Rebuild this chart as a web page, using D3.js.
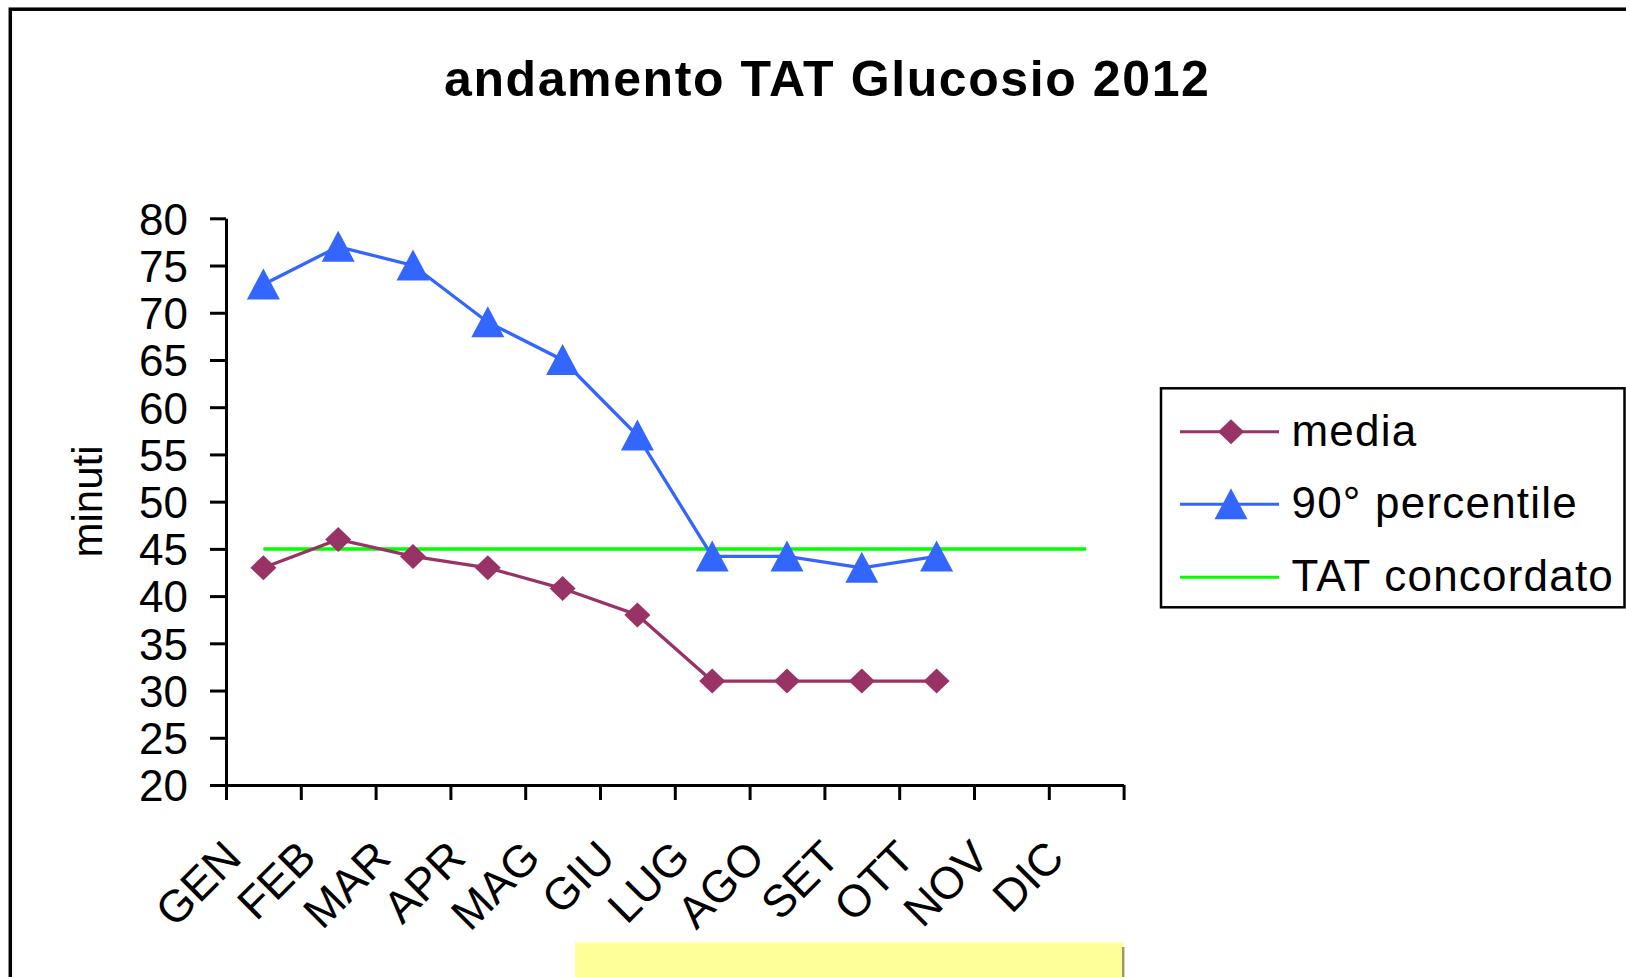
<!DOCTYPE html>
<html>
<head>
<meta charset="utf-8">
<script src="https://cdn.jsdelivr.net/npm/d3@7"></script>
<style>
  html, body { margin: 0; padding: 0; background: #fff; }
  svg { display: block; }
  text { font-family: "Liberation Sans", Arial, sans-serif; fill: #000; }
</style>
</head>
<body>
<svg id="chart" width="1626" height="977"></svg>
<script>
// ---- data ----
const months = ["GEN", "FEB", "MAR", "APR", "MAG", "GIU", "LUG", "AGO", "SET", "OTT", "NOV", "DIC"];
const media = [43, 46, 44.2, 43, 40.8, 38, 31, 31, 31, 31];
const perc90 = [73, 77, 75, 69, 65, 57, 44.2, 44.2, 43, 44.2];
const tatConcordato = [45, 45, 45, 45, 45, 45, 45, 45, 45, 45, 45, 45];
const yTicks = [20, 25, 30, 35, 40, 45, 50, 55, 60, 65, 70, 75, 80];
const seriesNames = ["media", "90° percentile", "TAT concordato"];
const titleText = "andamento TAT Glucosio 2012";
const yLabel = "minuti";

// ---- layout ----
const W = 1626, H = 977;
const plot = { left: 226, right: 1123.6, top: 218.3, bottom: 785 };
const C_MEDIA = "#993366", C_P90 = "#3366FF", C_TAT = "#00FF00";

const svg = d3.select("#chart");

// outer chart border
svg.append("rect").attr("x", 10.3).attr("y", 9.2).attr("width", W + 20).attr("height", H + 20)
  .attr("fill", "#fff").attr("stroke", "#000").attr("stroke-width", 3.5);

// yellow box at bottom
svg.append("rect").attr("x", 575).attr("y", 942).attr("width", 548.6).attr("height", 60)
  .attr("fill", "#FFFF99");
svg.append("line").attr("x1", 575).attr("x2", 1122).attr("y1", 942.5).attr("y2", 942.5)
  .attr("stroke", "#FFFFC4").attr("stroke-width", 1.5);
svg.append("line").attr("x1", 1123.2).attr("x2", 1123.2).attr("y1", 947).attr("y2", H)
  .attr("stroke", "#9C9C66").attr("stroke-width", 2.5);

// title
svg.append("text").attr("x", 444).attr("y", 96)
  .attr("font-size", 50).attr("font-weight", "bold").attr("letter-spacing", "1.6px")
  .text(titleText);

// scales
const xBand = d3.scaleBand().domain(months).range([plot.left, plot.right]).padding(0);
const xLin = d3.scaleLinear().domain([0, months.length]).range([plot.left, plot.right]);
const y = d3.scaleLinear().domain([20, 80]).range([plot.bottom, plot.top]);
const cx = m => xBand(m) + xBand.bandwidth() / 2;

// y axis
const yAxis = svg.append("g").attr("transform", `translate(${plot.left},0)`)
  .call(d3.axisLeft(y).tickValues(yTicks).tickSize(16).tickSizeOuter(0).tickPadding(22).tickFormat(d3.format("d")));
yAxis.select(".domain").attr("stroke", "#000").attr("stroke-width", 3);
yAxis.selectAll(".tick line").attr("stroke", "#000").attr("stroke-width", 3);
yAxis.selectAll(".tick text").attr("font-size", 44).attr("font-family", "Liberation Sans, Arial, sans-serif")
  .attr("fill", "#000").attr("dy", "0.36em");

// x axis (ticks between categories)
const xAxis = svg.append("g").attr("transform", `translate(0,${plot.bottom})`)
  .call(d3.axisBottom(xLin).tickValues(d3.range(months.length + 1)).tickSize(15).tickSizeOuter(0).tickFormat(""));
xAxis.select(".domain").attr("stroke", "#000").attr("stroke-width", 3);
xAxis.selectAll(".tick line").attr("stroke", "#000").attr("stroke-width", 3);

// x labels rotated
svg.append("g").selectAll("text").data(months).join("text")
  .attr("transform", d => `translate(${cx(d) - 20},${plot.bottom + 75}) rotate(-45)`)
  .attr("text-anchor", "end").attr("font-size", 45)
  .text(d => d);

// y axis title
svg.append("text").attr("transform", `translate(101.7,501.5) rotate(-90)`)
  .attr("text-anchor", "middle").attr("font-size", 42).text(yLabel);

// lines
const line = d3.line().x((d, i) => cx(months[i])).y(d => y(d));

svg.append("path").datum(tatConcordato).attr("d", line)
  .attr("fill", "none").attr("stroke", C_TAT).attr("stroke-width", 3.5);

svg.append("path").datum(media).attr("d", line)
  .attr("fill", "none").attr("stroke", C_MEDIA).attr("stroke-width", 3.3);
svg.append("path").datum(perc90).attr("d", line)
  .attr("fill", "none").attr("stroke", C_P90).attr("stroke-width", 3.3);

// markers
function diamond(sel) {
  sel.append("path").attr("d", "M0,-12.5 L13,0 L0,12.5 L-13,0 Z");
}
function triangle(sel) {
  sel.append("path").attr("d", "M0,-16 L16.5,15 L-16.5,15 Z");
}

svg.append("g").selectAll("g").data(media).join("g")
  .attr("transform", (d, i) => `translate(${cx(months[i])},${y(d)})`)
  .attr("fill", C_MEDIA).call(diamond);

svg.append("g").selectAll("g").data(perc90).join("g")
  .attr("transform", (d, i) => `translate(${cx(months[i])},${y(d)})`)
  .attr("fill", C_P90).call(triangle);

// legend
const lg = svg.append("g");
lg.append("rect").attr("x", 1161).attr("y", 388.3).attr("width", 463.5).attr("height", 219)
  .attr("fill", "#fff").attr("stroke", "#000").attr("stroke-width", 2.5);
const rowsY = [431.7, 504.3, 577.3];
const colors = [C_MEDIA, C_P90, C_TAT];
seriesNames.forEach((name, i) => {
  lg.append("line").attr("x1", 1180).attr("x2", 1279).attr("y1", rowsY[i]).attr("y2", rowsY[i])
    .attr("stroke", colors[i]).attr("stroke-width", 3);
  const mg = lg.append("g").attr("transform", `translate(1231,${rowsY[i]})`).attr("fill", colors[i]);
  if (i === 0) diamond(mg);
  if (i === 1) triangle(mg);
  lg.append("text").attr("x", 1291.5).attr("y", rowsY[i]).attr("dy", "0.32em")
    .attr("font-size", 44).attr("letter-spacing", "1.2px").text(name);
});
</script>
</body>
</html>
